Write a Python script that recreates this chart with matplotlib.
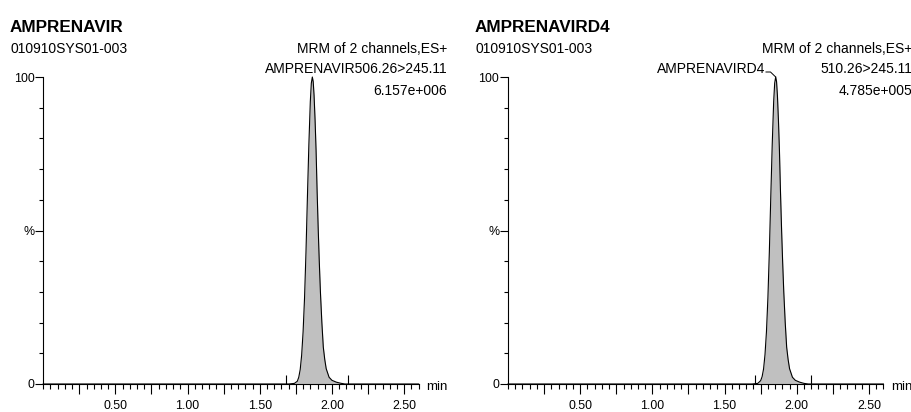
import matplotlib
matplotlib.use("Agg")
import matplotlib.pyplot as plt
from matplotlib.lines import Line2D
from matplotlib.ticker import MultipleLocator, FixedLocator, FixedFormatter

# ---------------- data ----------------
titles = ["AMPRENAVIR", "AMPRENAVIRD4"]
sample_id = "010910SYS01-003"
scan_desc = "MRM of 2 channels,ES+"
channel_label = ["AMPRENAVIR506.26>245.11", "510.26>245.11"]
peak_names = [None, "AMPRENAVIRD4"]
intensity_label = ["6.157e+006", "4.785e+005"]

# chromatogram traces (time in min, relative intensity %)
time_1 = [0.00, 1.70, 1.74, 1.76, 1.77, 1.78, 1.79, 1.80, 1.81, 1.82, 1.83,
          1.84, 1.85, 1.857, 1.864, 1.870, 1.876, 1.883, 1.89, 1.897, 1.905,
          1.912, 1.92, 1.93, 1.94, 1.95, 1.96, 1.98, 2.00, 2.03, 2.06, 2.09, 2.60]
inten_1 = [0.0, 0.0, 0.2, 0.9, 2.2, 4.7, 9.4, 17.0, 28.0, 43.0, 61.0,
           78.0, 92.0, 98.0, 100.0, 98.5, 94.0, 86.0, 76.0, 63.0, 50.0,
           40.0, 30.0, 20.0, 12.0, 8.0, 5.0, 2.2, 1.2, 0.6, 0.25, 0.0, 0.0]
time_2 = [0.00, 1.69, 1.73, 1.75, 1.76, 1.77, 1.78, 1.79, 1.80, 1.81, 1.82,
          1.83, 1.84, 1.847, 1.854, 1.860, 1.866, 1.873, 1.88, 1.887, 1.895,
          1.902, 1.91, 1.92, 1.93, 1.94, 1.95, 1.97, 1.99, 2.02, 2.05, 2.08, 2.60]
inten_2 = [0.0, 0.0, 0.2, 1.1, 2.4, 4.9, 9.6, 17.0, 28.0, 43.0, 61.0,
           78.0, 92.0, 98.0, 100.0, 98.5, 94.0, 86.0, 76.0, 63.0, 50.0,
           40.0, 30.0, 20.0, 12.0, 8.0, 5.0, 2.2, 1.2, 0.6, 0.2, 0.0, 0.0]
times = [time_1, time_2]
intens = [inten_1, inten_2]
apex_time = [1.864, 1.854]
# integration start / end markers (min)
peak_start = [1.68, 1.71]
peak_end = [2.11, 2.10]

x_major = [0.25, 0.50, 0.75, 1.00, 1.25, 1.50, 1.75, 2.00, 2.25, 2.50]
x_major_labels = ["", "0.50", "", "1.00", "", "1.50", "", "2.00", "", "2.50"]
y_major = [0, 50, 100]
y_major_labels = ["0", "%", "100"]

# ---------------- style ----------------
W, H = 912, 412
plt.rcParams["font.family"] = ["Liberation Sans", "DejaVu Sans"]
fig = plt.figure(figsize=(W / 100, H / 100), dpi=100)

ax_w = 375.4
ax_left_px = [43.2, 508.0]
top_px, bot_px = 77.0, 384.0
TXT = 10.0
TICK = 8.9

def fx(px):
    return px / W

def fy(py):
    return 1 - py / H

for i in range(2):
    L = ax_left_px[i]
    ax = fig.add_axes([fx(L), fy(bot_px), ax_w / W, (bot_px - top_px) / H])
    ax.set_xlim(0, 2.6)
    ax.set_ylim(0, 100)
    for s in ["top", "right"]:
        ax.spines[s].set_visible(False)
    for s in ["left", "bottom"]:
        ax.spines[s].set_linewidth(0.8)
        ax.spines[s].set_color("black")
    ax.patch.set_alpha(0)

    ax.fill_between(times[i], intens[i], 0, color="#c0c0c0", lw=0, clip_on=False)
    ax.plot(times[i], intens[i], color="black", lw=0.8, clip_on=False)
    ax.vlines([peak_start[i], peak_end[i]], 0, 3.0, color="black", lw=0.8)

    ax.xaxis.set_major_locator(FixedLocator(x_major))
    ax.xaxis.set_major_formatter(FixedFormatter(x_major_labels))
    ax.xaxis.set_minor_locator(MultipleLocator(0.05))
    ax.yaxis.set_major_locator(FixedLocator(y_major))
    ax.yaxis.set_major_formatter(FixedFormatter(y_major_labels))
    ax.yaxis.set_minor_locator(MultipleLocator(10))
    ax.tick_params(axis="x", which="major", length=7.2, width=0.8, pad=4.0,
                   labelsize=TICK, direction="out")
    ax.tick_params(axis="x", which="minor", length=3.6, width=0.8, direction="out")
    ax.tick_params(axis="y", which="major", length=5.8, width=0.8, pad=0.5,
                   labelsize=TICK, direction="out")
    ax.tick_params(axis="y", which="minor", length=2.9, width=0.8, direction="out")

    # min label
    fig.text(fx(L + ax_w + 8), fy(386.5), "min", fontsize=9.6, ha="left", va="center")

    # header texts
    R = L + ax_w + 28.5
    fig.text(fx(L - 33.5), fy(31.7), titles[i], fontsize=12.3, fontweight="bold",
             ha="left", va="baseline")
    fig.text(fx(L - 33.0), fy(53.3), sample_id, fontsize=TXT, ha="left", va="baseline")
    fig.text(fx(R), fy(53.3), scan_desc, fontsize=TXT, ha="right", va="baseline")
    fig.text(fx(R), fy(73.3), channel_label[i], fontsize=TXT, ha="right", va="baseline")
    fig.text(fx(R), fy(95.0), intensity_label[i], fontsize=TXT, ha="right", va="baseline")

    if peak_names[i]:
        fig.text(fx(765), fy(73.3), peak_names[i], fontsize=TXT, ha="right",
                 va="baseline")
        # leader line from label to peak apex
        apex_disp = ax.transData.transform((apex_time[i], 100))
        apex_fig = fig.transFigure.inverted().transform(apex_disp)
        fig.add_artist(Line2D([fx(766), fx(770.5), apex_fig[0]],
                              [fy(72.0), fy(72.0), apex_fig[1]],
                              transform=fig.transFigure, color="black", lw=0.7))

fig.savefig("out.png", dpi=100)
